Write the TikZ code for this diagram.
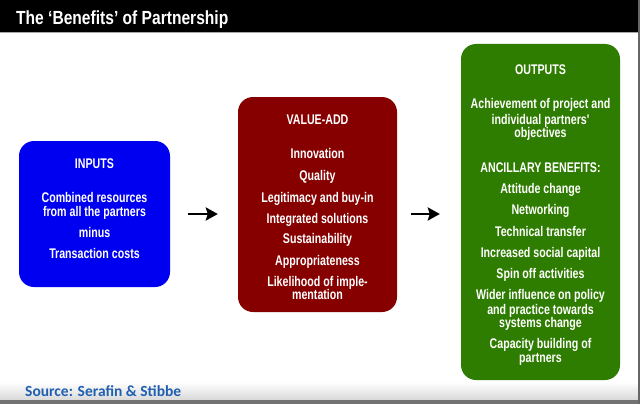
\documentclass[tikz,border=0pt]{standalone}
\usepackage{fontspec}
\setmainfont{Liberation Sans}
\newfontfamily\condfont[FakeStretch=0.76]{Liberation Sans}
\newfontfamily\titlefont[FakeStretch=0.82]{Liberation Sans}
\newfontfamily\srcfont{Carlito}
\usetikzlibrary{arrows.meta}
\definecolor{inblue}{RGB}{0,0,240}
\definecolor{valred}{RGB}{135,0,0}
\definecolor{outgreen}{RGB}{47,125,0}
\definecolor{srcblue}{RGB}{31,95,176}
\begin{document}
\begin{tikzpicture}[x=1pt,y=-1pt,
  box/.style={draw=none, rounded corners=15pt, inner sep=0pt},
  txt/.style={text=white, font=\condfont\bfseries\fontsize{14}{16}\selectfont, anchor=base, inner sep=0pt},
  flow/.style={-{Stealth[length=12pt,width=13pt,inset=2pt]}, line width=2.8pt, black}]
\useasboundingbox (0,0) rectangle (640,404);
\fill[white] (0,0) rectangle (640,404);
\shade[top color=white, bottom color=black!15] (0,382) rectangle (640,400);
\fill[black!55] (0,400) rectangle (640,404);
\fill[black!60] (637.5,0) rectangle (640,404);
\fill[black] (0,0) rectangle (637.5,32);
\fill[black!35] (0,32) rectangle (637.5,33.5);
\node[anchor=base west, inner sep=0pt, text=white, font=\titlefont\bfseries\fontsize{19}{22}\selectfont] (title) at (16,25) {The ‘Benefits’ of Partnership};
% boxes
\node[box, fill=inblue, minimum width=151pt, minimum height=146pt] (inputs) at (94.5,214) {};
\node[box, fill=valred, minimum width=159pt, minimum height=215pt] (value) at (317.5,204.5) {};
\node[box, fill=outgreen, minimum width=159pt, minimum height=336pt] (outputs) at (540.5,212) {};
% texts
\foreach \y/\t [count=\i] in {163/INPUTS, 197/Combined resources, 211/from all the partners, 232/minus, 253/Transaction costs}
  \node[txt] (in\i) at (94.5,\y+5.5) {\t};
\foreach \y/\t [count=\i] in {119/VALUE-ADD, 153/Innovation, 175/Quality, 197/Legitimacy and buy-in, 218/Integrated solutions, 238/Sustainability, 260/Appropriateness, 281/Likelihood of imple-, 294/mentation}
  \node[txt] (va\i) at (317.5,\y+5.5) {\t};
\foreach \y/\t [count=\i] in {69/OUTPUTS, 103/Achievement of project and, 119/individual partners', 132/objectives, 167/ANCILLARY BENEFITS:, 188/Attitude change, 209/Networking, 231/Technical transfer, 252/Increased social capital, 273/Spin off activities, 294/Wider influence on policy, 309/and practice towards, 322/systems change, 343/Capacity building of, 357/partners}
  \node[txt] (out\i) at (540.5,\y+5.5) {\t};
% arrows
\draw[flow, shorten <=18pt, shorten >=20pt] (inputs.east) -- (inputs.east -| value.west);
\draw[flow, shorten <=14pt, shorten >=21pt] (value.east |- inputs.east) -- (outputs.west |- inputs.east);
% source
\node[anchor=base west, inner sep=0pt, text=srcblue, font=\srcfont\bfseries\fontsize{15.5}{18}\selectfont] (source) at (25,396.5) {Source: Serafin \& Stibbe};
\end{tikzpicture}
\end{document}
